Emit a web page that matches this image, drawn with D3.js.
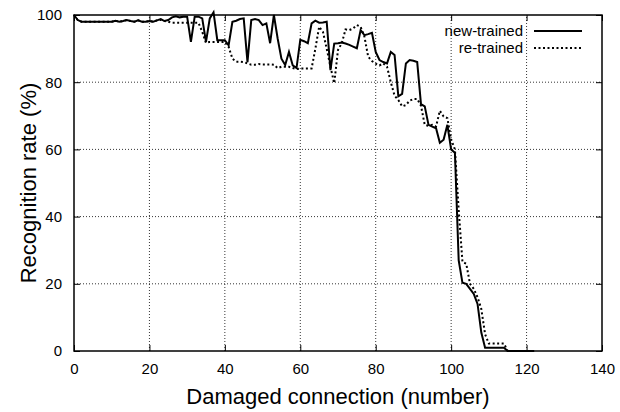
<!DOCTYPE html>
<html>
<head>
<meta charset="utf-8">
<script src="https://cdn.jsdelivr.net/npm/d3@7"></script>
<style>
  body { margin: 0; background: #fff; }
  svg { display: block; font-family: "Liberation Sans", Arial, sans-serif; }
</style>
</head>
<body>
<script>
// recognition rate vs number of damaged connections
const xs = d3.range(0, 123);

const newTrained = [
  100, 98.5, 98, 98, 98, 98, 98, 98, 98, 98,
  98, 98.3, 98, 98.2, 98.5, 98.2, 98, 98.4, 98, 98,
  98.2, 98, 98.4, 98.8, 98.2, 98.5, 99.3, 99.6, 99.3, 99.5,
  99.5, 92, 99.5, 99.5, 99, 92, 99, 100.8, 92.5, 92.5,
  92.5, 91, 98, 98.3, 98.8, 99, 86, 98.5, 98.8, 98.5,
  97, 97.5, 91.6, 100, 93, 87, 85.1, 89, 85, 84.2,
  92.6, 92.2, 91.6, 97.5, 98.3, 97.7, 97.8, 98, 83.6, 91.5,
  91.6, 91.8, 91.5, 91.1, 90.6, 90.1, 95.5, 94, 94.3, 94.7,
  89, 86.6, 86, 85.6, 89, 88.1, 75.8, 76.5, 85.6, 86.6,
  86.4, 86, 73.5, 72.8, 67.3, 66.8, 66.3, 62, 62.9, 67.3,
  60, 59, 27, 20.3, 20, 18.5, 17, 14, 5.5, 1,
  1, 1, 1, 1, 1, 0, 0, 0, 0, 0,
  0, 0, 0
];

const reTrained = [
  100, 98.5, 98, 98, 98, 98, 98, 98, 98, 98,
  98, 98.3, 98, 98.2, 98.5, 98.2, 98, 98.4, 98, 98,
  98.2, 98, 98.4, 98.6, 98.2, 98, 97.7, 97.7, 97.7, 97.7,
  97.7, 97.7, 97.7, 97.7, 95, 91.7, 92, 92, 92, 92,
  92, 90.5, 87, 86.1, 86.1, 86, 85.6, 85.2, 85.2, 85.4,
  85.3, 85.3, 85.3, 85.2, 84.2, 84.6, 84.6, 84.6, 84.2, 83.9,
  84.1, 84.1, 84.1, 84.1, 90, 96.5, 95, 90, 84.6, 79.7,
  89.6, 91.6, 95.7, 95.5, 96, 97, 96.5, 93.6, 87.6, 86.3,
  85.5, 85, 85.6, 84.6, 80, 76, 74.7, 72.8, 73.2, 74.5,
  75, 75, 73, 67.3, 67, 67.3, 66.8, 71.5, 69.8, 69.3,
  63, 60, 42, 26.5, 26, 20, 18.5, 16, 12.5, 5,
  2.2, 2.2, 2.2, 2.2, 2.2, 0, 0, 0, 0, 0,
  0, 0, 0
];

const xTicks = [0, 20, 40, 60, 80, 100, 120, 140];
const yTicks = [0, 20, 40, 60, 80, 100];

const width = 620, height = 412;
const margin = {top: 15, right: 18, bottom: 61, left: 74};

const x = d3.scaleLinear([0, 140], [margin.left, width - margin.right]);
const y = d3.scaleLinear([0, 100], [height - margin.bottom, margin.top]);

const svg = d3.select("body").append("svg")
    .attr("width", width)
    .attr("height", height);

// grid
svg.append("g")
    .attr("stroke", "#000")
    .attr("stroke-width", 0.8)
    .attr("stroke-dasharray", "1,2")
  .call(g => g.selectAll(".gx")
    .data(xTicks.slice(1, -1))
    .join("line")
      .attr("x1", d => x(d)).attr("x2", d => x(d))
      .attr("y1", y(0)).attr("y2", y(100)))
  .call(g => g.selectAll(".gy")
    .data(yTicks.slice(1, -1))
    .join("line")
      .attr("class", "gy")
      .attr("x1", x(0)).attr("x2", x(140))
      .attr("y1", d => y(d)).attr("y2", d => y(d)));

// axes with ticks inward, mirrored
svg.append("g")
    .attr("transform", `translate(0,${y(0)})`)
    .call(d3.axisBottom(x).tickValues(xTicks).tickSizeInner(-6).tickSizeOuter(0).tickPadding(12))
    .call(g => g.select(".domain").remove());
svg.append("g")
    .attr("transform", `translate(0,${y(100)})`)
    .call(d3.axisTop(x).tickValues(xTicks).tickSizeInner(-6).tickSizeOuter(0).tickFormat(""))
    .call(g => g.select(".domain").remove());
svg.append("g")
    .attr("transform", `translate(${x(0)},0)`)
    .call(d3.axisLeft(y).tickValues(yTicks).tickSizeInner(-6).tickSizeOuter(0).tickPadding(12))
    .call(g => g.select(".domain").remove());
svg.append("g")
    .attr("transform", `translate(${x(140)},0)`)
    .call(d3.axisRight(y).tickValues(yTicks).tickSizeInner(-6).tickSizeOuter(0).tickFormat(""))
    .call(g => g.select(".domain").remove());

svg.selectAll(".tick text")
    .attr("font-size", 15)
    .attr("fill", "#000")
    .attr("font-family", "Liberation Sans, Arial, sans-serif");
svg.selectAll(".tick line").attr("stroke", "#000");

// frame
svg.append("rect")
    .attr("x", x(0)).attr("y", y(100))
    .attr("width", x(140) - x(0)).attr("height", y(0) - y(100))
    .attr("fill", "none")
    .attr("stroke", "#000")
    .attr("stroke-width", 1.5);

const line = d3.line()
    .x((d, i) => x(xs[i]))
    .y(d => y(d));

svg.append("path")
    .datum(reTrained)
    .attr("fill", "none")
    .attr("stroke", "#000")
    .attr("stroke-width", 2)
    .attr("stroke-dasharray", "2,2.5")
    .attr("d", line);

svg.append("path")
    .datum(newTrained)
    .attr("fill", "none")
    .attr("stroke", "#000")
    .attr("stroke-width", 2)
    .attr("d", line);

// legend
const legend = [
  {name: "new-trained", dash: null},
  {name: "re-trained", dash: "2,2.5"}
];
const lg = svg.append("g")
  .selectAll("g")
  .data(legend)
  .join("g")
    .attr("transform", (d, i) => `translate(0,${31 + i * 17})`);
lg.append("text")
    .attr("x", 523)
    .attr("dy", "0.35em")
    .attr("text-anchor", "end")
    .attr("font-size", 15)
    .text(d => d.name);
lg.append("line")
    .attr("x1", 534).attr("x2", 582)
    .attr("stroke", "#000")
    .attr("stroke-width", 2)
    .attr("stroke-dasharray", d => d.dash);

// axis titles
svg.append("text")
    .attr("x", (x(0) + x(140)) / 2)
    .attr("y", 404)
    .attr("text-anchor", "middle")
    .attr("font-size", 22)
    .text("Damaged connection (number)");

svg.append("text")
    .attr("transform", `translate(36,${(y(0) + y(100)) / 2}) rotate(-90)`)
    .attr("text-anchor", "middle")
    .attr("font-size", 22)
    .text("Recognition rate (%)");
</script>
</body>
</html>
